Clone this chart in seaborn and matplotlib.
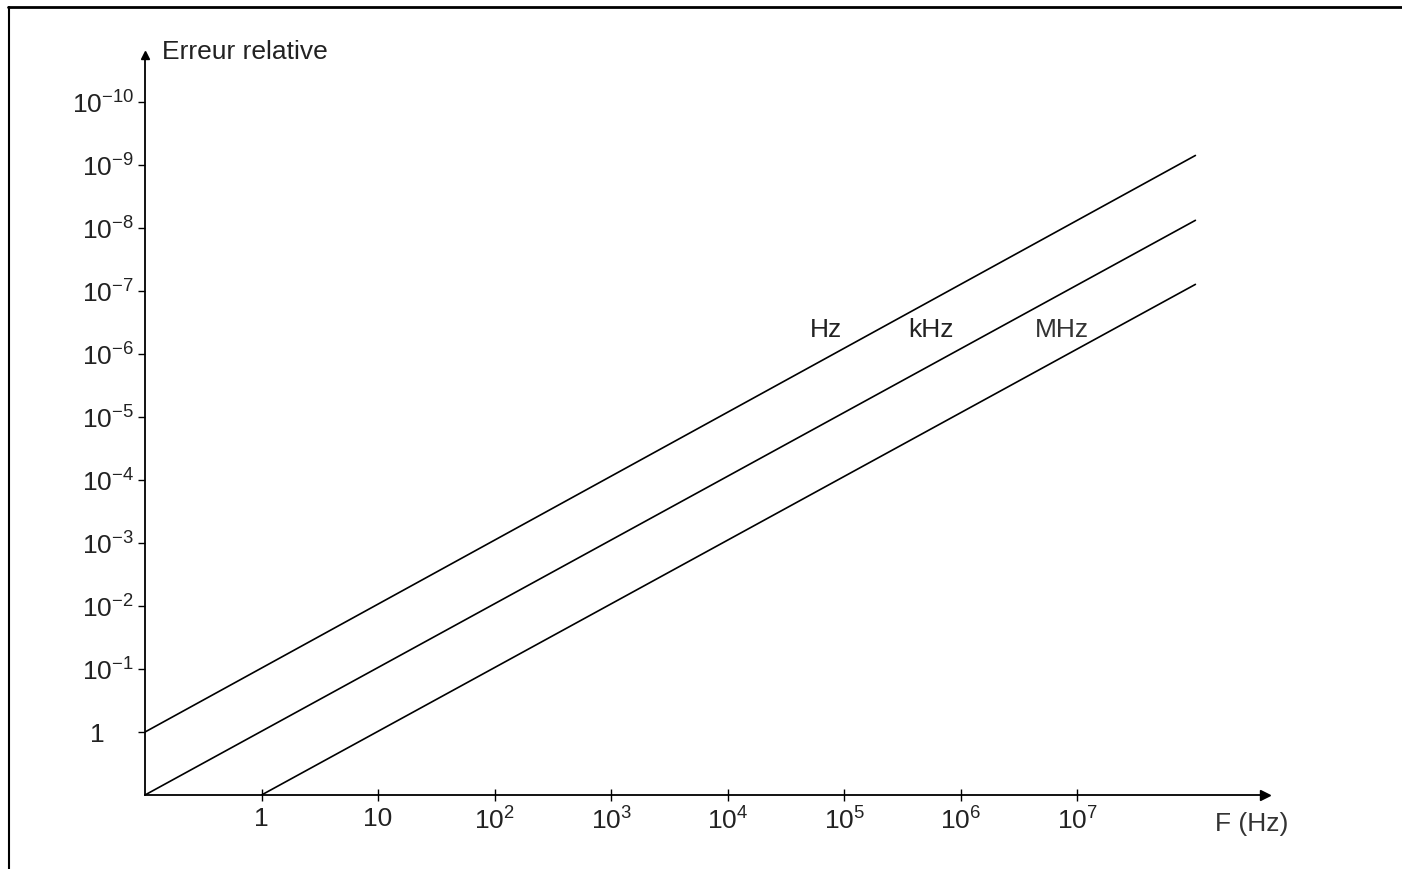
import numpy as np
import pandas as pd
import matplotlib
matplotlib.use("Agg")
import matplotlib.pyplot as plt
from matplotlib.lines import Line2D
from matplotlib.ticker import NullLocator
import seaborn as sns

# endpoints of the three error lines
freq_hz = [0.1, 1.03e8]
err_hz = [1.0, 7e-10]
freq_khz = [0.1, 1.03e8]
err_khz = [10.0, 7.5e-9]
freq_mhz = [1.0, 1.03e8]
err_mhz = [10.0, 7.8e-8]

xticks = [1, 10, 1e2, 1e3, 1e4, 1e5, 1e6, 1e7]
xlabels = ["1", "10", "$10^2$", "$10^3$", "$10^4$", "$10^5$", "$10^6$", "$10^7$"]
yticks = [1, 1e-1, 1e-2, 1e-3, 1e-4, 1e-5, 1e-6, 1e-7, 1e-8, 1e-9, 1e-10]
ylabels = ["1    "] + ["$10^{-%d}$" % k for k in range(1, 11)]

df = pd.concat([
    pd.DataFrame({"F": freq_hz, "err": err_hz, "unit": "Hz"}),
    pd.DataFrame({"F": freq_khz, "err": err_khz, "unit": "kHz"}),
    pd.DataFrame({"F": freq_mhz, "err": err_mhz, "unit": "MHz"}),
])

sns.set_style("white")
plt.rcParams["font.family"] = ["Liberation Sans", "DejaVu Sans"]
plt.rcParams["mathtext.default"] = "regular"
FS = 19

fig = plt.figure(figsize=(14.02, 8.69), dpi=100)
ax = fig.add_axes([145 / 1402, 1 - 795 / 869, 1120 / 1402, 740 / 869])

sns.lineplot(data=df, x="F", y="err", hue="unit", units="unit", estimator=None,
             palette=["black"] * 3, legend=False, linewidth=1.2, ax=ax)

ax.set_xscale("log")
ax.set_yscale("log")
ax.set_xlim(0.1, 10 ** 8.61)
ax.set_ylim(10.0, 10 ** -10.75)
ax.set_xticks(xticks)
ax.set_xticklabels(xlabels)
ax.set_yticks(yticks)
ax.set_yticklabels(ylabels)
ax.xaxis.set_minor_locator(NullLocator())
ax.yaxis.set_minor_locator(NullLocator())
ax.set_xlabel("")
ax.set_ylabel("")

for s in ["top", "right"]:
    ax.spines[s].set_visible(False)
for s in ["left", "bottom"]:
    ax.spines[s].set_linewidth(1.3)
    ax.spines[s].set_color("black")

ax.tick_params(axis="y", direction="out", length=5, width=1, colors="black",
               labelsize=FS, pad=3, left=True)
ax.tick_params(axis="x", direction="inout", length=8, width=1, colors="black",
               labelsize=FS, pad=5, bottom=True)
for t in ax.get_xticklabels() + ax.get_yticklabels():
    t.set_color("#222222")

# arrow heads
ax.plot([0], [1], marker="^", color="black", markersize=6, transform=ax.transAxes, clip_on=False)
ax.plot([1], [0], marker=">", color="black", markersize=7, transform=ax.transAxes, clip_on=False)

ax.text(0.015, 1.004, "Erreur relative", transform=ax.transAxes, fontsize=FS,
        ha="left", va="center", color="#222222")
ax.text(0.988, -0.039, "F (Hz)", transform=ax.transAxes, fontsize=FS,
        ha="center", va="center", color="#333333")

ax.text(7.0e4, 4.2e-7, "Hz", fontsize=FS, ha="center", va="center", color="#222222")
ax.text(5.5e5, 4.2e-7, "kHz", fontsize=FS, ha="center", va="center", color="#222222")
ax.text(7.4e6, 4.2e-7, "MHz", fontsize=FS, ha="center", va="center", color="#333333")

# scan frame
fig.add_artist(Line2D([8 / 1402, 1.0], [1 - 7 / 869] * 2, color="black", linewidth=2))
fig.add_artist(Line2D([9 / 1402] * 2, [0.0, 1 - 7 / 869], color="black", linewidth=1.5))

fig.savefig("out.png", dpi=100, facecolor="white")
